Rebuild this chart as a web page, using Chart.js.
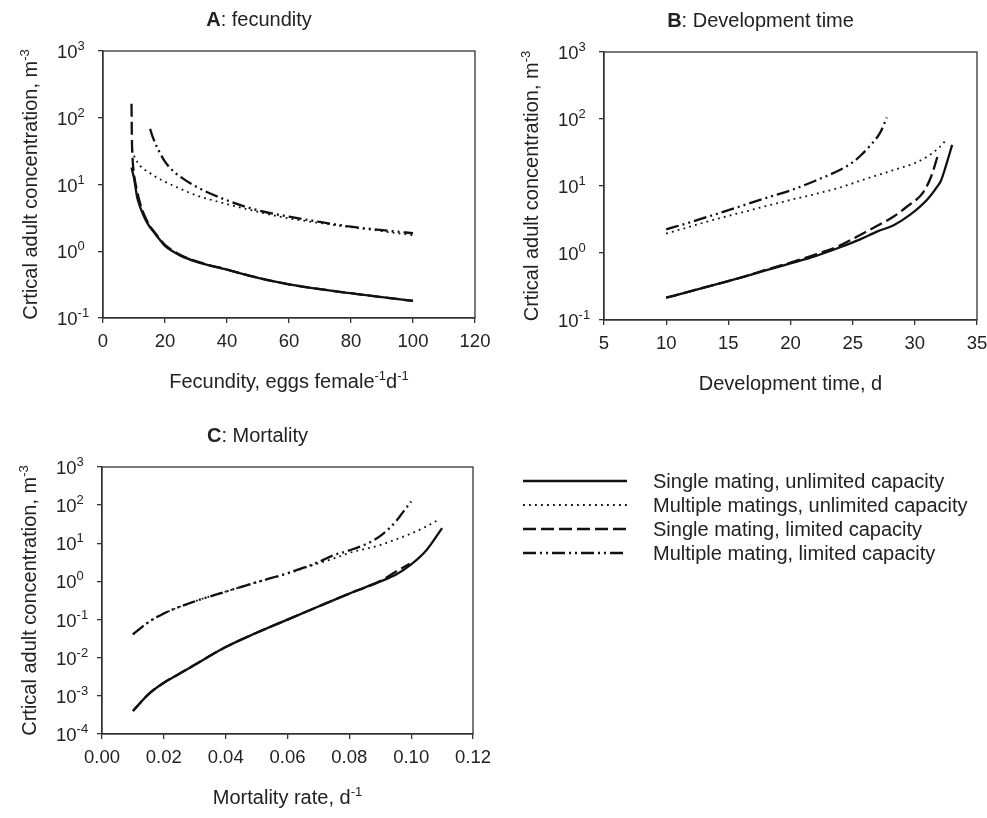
<!DOCTYPE html>
<html>
<head>
<meta charset="utf-8">
<title>Critical adult concentration</title>
<script src="https://cdn.jsdelivr.net/npm/chart.js@4.4.1/dist/chart.umd.min.js"></script>
<style>
    html, body { margin: 0; padding: 0; background: #fff; }
    #wrap { position: relative; width: 987px; height: 818px; overflow: hidden; }
    canvas { position: absolute; }
</style>
</head>
<body>
<div id="wrap">
    <canvas id="chartA" width="490" height="400" style="left:0;top:0;width:490px;height:400px"></canvas>
    <canvas id="chartB" width="497" height="400" style="left:490px;top:0;width:497px;height:400px"></canvas>
    <canvas id="chartC" width="987" height="418" style="left:0;top:400px;width:987px;height:418px"></canvas>
</div>
<script>
// ---- data ----
var seriesNames = [
    'Single mating, unlimited capacity',
    'Multiple matings, unlimited capacity',
    'Single mating, limited capacity',
    'Multiple mating, limited capacity'
];

// A: fecundity (eggs female-1 d-1)
var fecX_single = [9.2, 9.6, 10, 11, 12, 13, 14, 15, 16, 18, 20, 25, 30, 40, 50, 60, 70, 80, 90, 100];
var fecY_single = [18, 15, 12.5, 6.5, 4.6, 3.5, 2.8, 2.35, 2.05, 1.55, 1.2, 0.86, 0.7, 0.53, 0.4, 0.32, 0.27, 0.235, 0.205, 0.18];
var fecX_multi = [9.3, 10, 11, 12, 13, 15, 17, 20, 25, 30, 40, 50, 60, 70, 80, 90, 100];
var fecY_multi = [33, 27, 22, 19, 17.2, 15, 13, 11, 8.6, 6.9, 5.1, 3.9, 3.1, 2.65, 2.3, 2.0, 1.73];
var fecX_singleLim = [9.2, 9.25, 9.3, 9.45, 9.7, 10, 11, 12, 13, 14, 15, 16, 18, 20, 25, 30, 40, 50, 60, 70, 80, 90, 100];
var fecY_singleLim = [162, 95, 55, 30, 19, 14, 8, 5.2, 3.8, 3.0, 2.45, 2.1, 1.6, 1.25, 0.88, 0.71, 0.53, 0.4, 0.32, 0.27, 0.235, 0.205, 0.18];
var fecX_multiLim = [15.2, 16, 17, 18, 20, 22, 25, 30, 40, 50, 60, 70, 80, 90, 100];
var fecY_multiLim = [68, 52, 40, 32, 22, 17, 13, 9.3, 5.8, 4.1, 3.3, 2.75, 2.33, 2.08, 1.86];

// B: development time (d)
var devX_single = [10, 12, 14, 16, 18, 20, 22, 24, 25.6, 27, 28.3, 29.6, 31, 31.8, 32.1, 32.5, 33];
var devY_single = [0.215, 0.27, 0.34, 0.43, 0.55, 0.7, 0.9, 1.22, 1.6, 2.1, 2.6, 3.7, 6.3, 9.8, 12, 20, 41];
var devX_multi = [10, 12, 14, 16, 18, 20, 22, 24, 25.6, 27, 28.3, 30, 31, 32, 32.6];
var devY_multi = [1.95, 2.5, 3.2, 4.0, 5.0, 6.2, 7.6, 9.5, 12, 14.5, 17.3, 22, 27.5, 38, 51];
var devX_singleLim = [10, 12, 14, 16, 18, 20, 22, 24, 25.6, 26.9, 28.3, 29.35, 30.7, 31.36, 31.9];
var devY_singleLim = [0.215, 0.27, 0.34, 0.43, 0.56, 0.72, 0.95, 1.3, 1.86, 2.5, 3.5, 4.9, 8.2, 14.6, 31];
var devX_multiLim = [10, 12, 14, 16, 18, 20, 22, 24, 25, 25.6, 26.4, 27.2, 27.75];
var devY_multiLim = [2.25, 2.9, 3.8, 5.0, 6.6, 8.6, 12, 17.5, 22.5, 28, 40, 62, 105];

// C: mortality rate (d-1)
var morX_single = [0.01, 0.015, 0.02, 0.025, 0.03, 0.04, 0.05, 0.06, 0.07, 0.08, 0.09, 0.095, 0.10, 0.105, 0.11];
var morY_single = [0.0004, 0.0011, 0.0022, 0.0038, 0.0065, 0.019, 0.045, 0.1, 0.22, 0.48, 1.0, 1.5, 2.8, 6.7, 25];
var morX_multi = [0.01, 0.015, 0.02, 0.03, 0.04, 0.05, 0.06, 0.07, 0.075, 0.08, 0.09, 0.095, 0.10, 0.105, 0.109];
var morY_multi = [0.041, 0.085, 0.145, 0.30, 0.54, 0.95, 1.6, 3.0, 4.0, 5.6, 9.0, 12.6, 18, 28, 42];
var morX_singleLim = [0.01, 0.015, 0.02, 0.025, 0.03, 0.04, 0.05, 0.06, 0.07, 0.08, 0.09, 0.095, 0.0995];
var morY_singleLim = [0.0004, 0.0011, 0.0022, 0.0038, 0.0065, 0.019, 0.045, 0.1, 0.22, 0.48, 1.02, 1.8, 2.9];
var morX_multiLim = [0.01, 0.015, 0.02, 0.03, 0.04, 0.05, 0.06, 0.07, 0.075, 0.08, 0.087, 0.091, 0.095, 0.097, 0.1];
var morY_multiLim = [0.041, 0.085, 0.145, 0.30, 0.54, 0.95, 1.65, 3.2, 4.9, 6.5, 11, 18, 37, 60, 125];

// tick values
var yTicksAB = [0.1, 1, 10, 100, 1000];
var yTicksC = [0.0001, 0.001, 0.01, 0.1, 1, 10, 100, 1000];

var FF = '"Liberation Sans", Arial, Helvetica, sans-serif';
var INK = '#111';
var AXIS = '#333';
var TXT = '#222';

// line styles: solid, dotted, dashed, dash-dot-dot
var lineStyles = [
    { borderWidth: 2.3, borderDash: [] },
    { borderWidth: 1.8, borderDash: [1.8, 4.2] },
    { borderWidth: 2.3, borderDash: [13, 5] },
    { borderWidth: 2.3, borderDash: [13, 4, 2, 4, 2, 4] }
];

function pairs(xs, ys) {
    return xs.map(function (x, i) { return { x: x, y: ys[i] }; });
}

function buildDatasets(xList, yList) {
    return xList.map(function (xs, i) {
        return {
            label: seriesNames[i],
            data: pairs(xs, yList[i]),
            borderColor: INK,
            borderWidth: lineStyles[i].borderWidth,
            borderDash: lineStyles[i].borderDash,
            borderCapStyle: 'butt',
            pointRadius: 0,
            fill: false,
            cubicInterpolationMode: 'monotone'
        };
    });
}

// draw text made of [text, kind] parts; kind: n normal, b bold, s superscript, t tick-size
function fontFor(kind) {
    if (kind === 'b') return 'bold 20px ' + FF;
    if (kind === 's') return '13px ' + FF;
    if (kind === 't') return '18.5px ' + FF;
    return '20px ' + FF;
}
function drawRich(ctx, x, y, parts, align) {
    var total = 0;
    parts.forEach(function (p) { ctx.font = fontFor(p[1]); total += ctx.measureText(p[0]).width; });
    var cx = align === 'center' ? x - total / 2 : (align === 'right' ? x - total : x);
    ctx.textAlign = 'left';
    ctx.textBaseline = 'alphabetic';
    ctx.fillStyle = TXT;
    parts.forEach(function (p) {
        ctx.font = fontFor(p[1]);
        ctx.fillText(p[0], cx, p[1] === 's' ? y - 8 : y);
        cx += ctx.measureText(p[0]).width;
    });
}

var yTitle = [['Crtical adult concentration, m', 'n'], ['-3', 's']];

function panelText(cfg) {
    return {
        id: 'panelText',
        afterDraw: function (chart) {
            var ctx = chart.ctx, a = chart.chartArea, ys = chart.scales.y;
            ctx.save();
            // box round the plot
            ctx.strokeStyle = AXIS;
            ctx.lineWidth = 1.3;
            ctx.setLineDash([]);
            ctx.strokeRect(a.left, a.top, a.right - a.left, a.bottom - a.top);
            // log tick labels as powers of ten
            ys.ticks.forEach(function (t) {
                var py = ys.getPixelForValue(t.value);
                var e = Math.round(Math.log10(t.value));
                drawRich(ctx, a.left - 46, py + 7, [['10', 't'], [String(e), 's']], 'left');
            });
            var mid = (a.left + a.right) / 2;
            drawRich(ctx, mid - 30, a.top - 25, cfg.title, 'center');
            drawRich(ctx, mid, a.bottom + 70, cfg.xTitle, 'center');
            // legend (panel C only)
            if (cfg.legend) {
                chart.data.datasets.forEach(function (ds, i) {
                    var ly = cfg.legend.top + 24 * i;
                    ctx.beginPath();
                    ctx.strokeStyle = INK;
                    ctx.lineWidth = ds.borderWidth;
                    ctx.lineCap = 'butt';
                    ctx.setLineDash(ds.borderDash);
                    ctx.moveTo(cfg.legend.x0, ly);
                    ctx.lineTo(cfg.legend.x1, ly);
                    ctx.stroke();
                    ctx.setLineDash([]);
                    drawRich(ctx, cfg.legend.tx, ly + 7, [[ds.label, 'n']], 'left');
                });
            }
            // rotated y title
            ctx.translate(a.left - 66, (a.top + a.bottom) / 2);
            ctx.rotate(-Math.PI / 2);
            drawRich(ctx, 0, 0, yTitle, 'center');
            ctx.restore();
        }
    };
}

function makePanel(id, datasets, box, xScale, yMin, yMax, yTicks, cfg) {
    var canvas = document.getElementById(id);
    return new Chart(canvas.getContext('2d'), {
        type: 'line',
        data: { datasets: datasets },
        options: {
            responsive: false,
            animation: false,
            devicePixelRatio: 1,
            layout: {
                autoPadding: false,
                padding: { left: 0, top: box.top, right: canvas.width - box.right, bottom: 0 }
            },
            plugins: { legend: { display: false }, tooltip: { enabled: false } },
            scales: {
                x: Object.assign({
                    type: 'linear',
                    grid: { drawOnChartArea: false, drawTicks: true, tickLength: 5, color: AXIS, lineWidth: 1.3 },
                    border: { color: AXIS, width: 1.3 },
                    afterFit: function (s) {
                        s.height = canvas.height - box.bottom;
                        s.paddingLeft = 0;
                        s.paddingRight = 0;
                    }
                }, xScale),
                y: {
                    type: 'logarithmic',
                    min: yMin,
                    max: yMax,
                    afterBuildTicks: function (s) { s.ticks = yTicks.map(function (v) { return { value: v }; }); },
                    ticks: { display: false },
                    grid: { drawOnChartArea: false, drawTicks: true, tickLength: 5, color: AXIS, lineWidth: 1.3 },
                    border: { color: AXIS, width: 1.3 },
                    afterFit: function (s) {
                        s.width = box.left;
                        s.paddingTop = 0;
                        s.paddingBottom = 0;
                    }
                }
            }
        },
        plugins: [panelText(cfg)]
    });
}

var xTickFont = { family: FF, size: 18.5 };

makePanel('chartA',
    buildDatasets([fecX_single, fecX_multi, fecX_singleLim, fecX_multiLim],
                  [fecY_single, fecY_multi, fecY_singleLim, fecY_multiLim]),
    { left: 103, right: 475, top: 51, bottom: 318 },
    { min: 0, max: 120, ticks: { stepSize: 20, font: xTickFont, color: TXT, padding: 8 } },
    0.1, 1000, yTicksAB,
    {
        title: [['A', 'b'], [': fecundity', 'n']],
        xTitle: [['Fecundity, eggs female', 'n'], ['-1', 's'], ['d', 'n'], ['-1', 's']]
    });

makePanel('chartB',
    buildDatasets([devX_single, devX_multi, devX_singleLim, devX_multiLim],
                  [devY_single, devY_multi, devY_singleLim, devY_multiLim]),
    { left: 114, right: 487, top: 52, bottom: 320 },
    { min: 5, max: 35, ticks: { stepSize: 5, font: xTickFont, color: TXT, padding: 8 } },
    0.1, 1000, yTicksAB,
    {
        title: [['B', 'b'], [': Development time', 'n']],
        xTitle: [['Development time, d', 'n']]
    });

makePanel('chartC',
    buildDatasets([morX_single, morX_multi, morX_singleLim, morX_multiLim],
                  [morY_single, morY_multi, morY_singleLim, morY_multiLim]),
    { left: 102, right: 473, top: 67, bottom: 334 },
    {
        min: 0, max: 0.12,
        ticks: {
            stepSize: 0.02, font: xTickFont, color: TXT, padding: 8,
            callback: function (v) { return v.toFixed(2); }
        }
    },
    0.0001, 1000, yTicksC,
    {
        title: [['C', 'b'], [': Mortality', 'n']],
        xTitle: [['Mortality rate, d', 'n'], ['-1', 's']],
        legend: { top: 81, x0: 523, x1: 627, tx: 653 }
    });
</script>
</body>
</html>
